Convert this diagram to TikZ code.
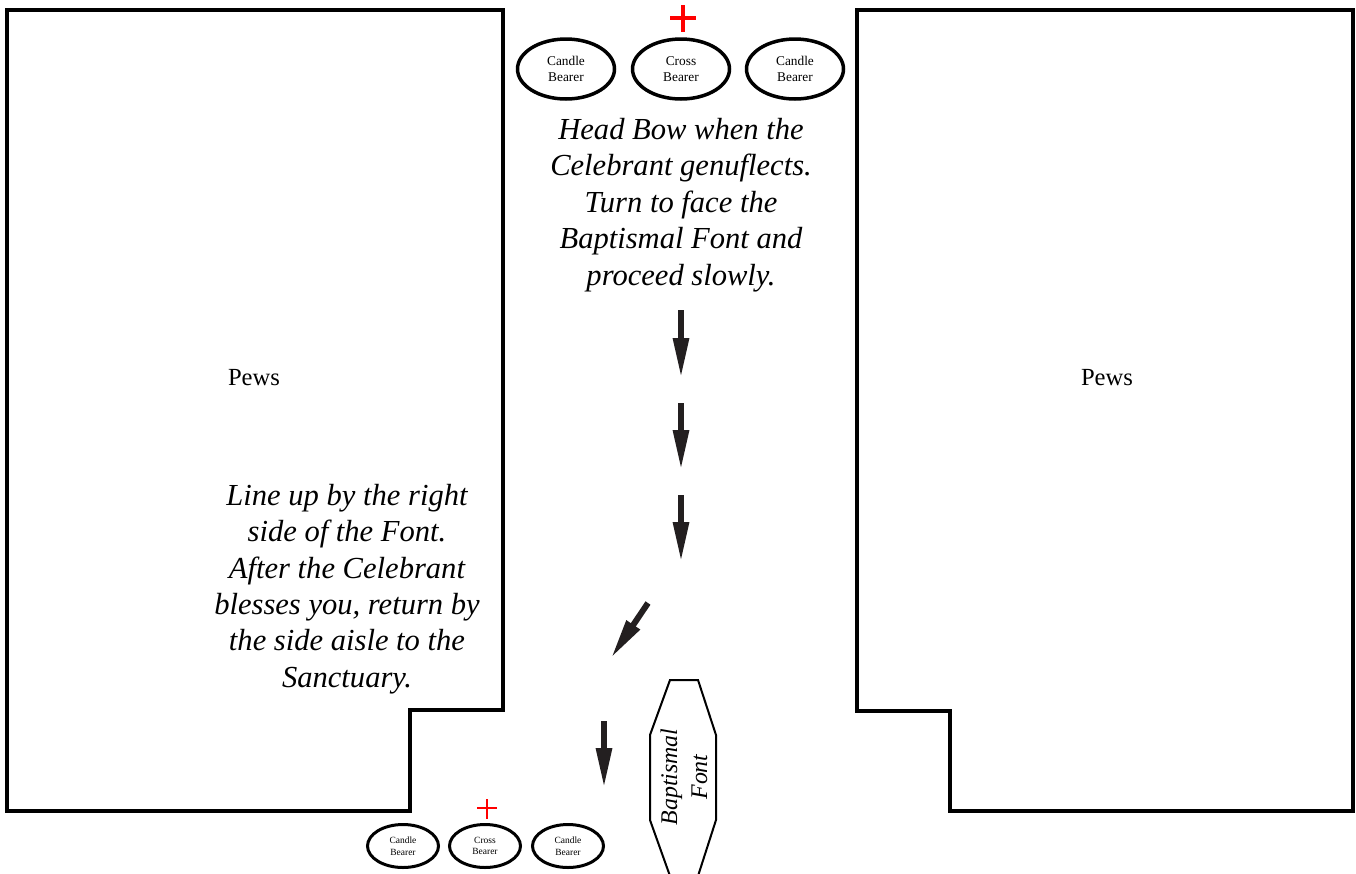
\documentclass[tikz,border=0pt]{standalone}
\usepackage{fontspec}
\setmainfont{Liberation Serif}
\usetikzlibrary{shapes.geometric,arrows.meta}
\definecolor{ink}{HTML}{231F20}

\begin{document}
\begin{tikzpicture}[x=0.02cm,y=-0.02cm,
    pew/.style={line width=0.08cm,line join=miter},
    bearer/.style={ellipse,draw,line width=0.07cm,inner sep=0pt,minimum width=1.94cm,minimum height=1.2cm,align=center,font=\fontsize{7.6}{9}\selectfont},
    smallbearer/.style={bearer,line width=0.06cm,minimum width=1.42cm,minimum height=0.86cm,font=\fontsize{5.4}{6.6}\selectfont},
    note/.style={align=center,font=\fontsize{17.4}{20.7}\selectfont\itshape},
    walk/.style={draw=ink,line width=0.12cm,-{Triangle[length=0.8cm,width=0.3cm]}}]
    \clip(0,0)rectangle(1356,873);

    % pews
    \draw[pew](7,10)--(503,10)--(503,710)--(410,710)--(410,811)--(7,811)--cycle;
    \draw[pew](857,10)--(1353,10)--(1353,811)--(950,811)--(950,711)--(857,711)--cycle;
    \node[font=\fontsize{14}{16}\selectfont](pewsL)at(254,378){Pews};
    \node[font=\fontsize{14}{16}\selectfont](pewsR)at(1107,378){Pews};

    % procession at the sanctuary
    \node[bearer](candleTL)at(566,69){Candle\\Bearer};
    \node[bearer](crossT)at(681,69){Cross\\Bearer};
    \node[bearer](candleTR)at(795,69){Candle\\Bearer};
    \draw[red,line width=0.08cm](683,5)--(683,32);
    \draw[red,line width=0.08cm](670,18)--(696,18);

    \node[note](headbow)at(681,205){Head Bow when the\\Celebrant genuflects.\\Turn to face the\\Baptismal Font and\\proceed slowly.};
    \node[note](lineup)at(347,589){Line up by the right\\side of the Font.\\After the Celebrant\\blesses you, return by\\the side aisle to the\\Sanctuary.};

    % path down the aisle
    \draw[walk](681,310)--(681,378);
    \draw[walk](681,403)--(681,470);
    \draw[walk](681,495)--(681,562);
    \draw[walk](648,603)--(611,658);
    \draw[walk](604,721)--(604,788);

    % font
    \draw[line width=0.04cm](670,680)--(698,680)--(716,735)--(716,820)--(698,876)--(670,876)--(650,820)--(650,735)--cycle;
    \node[rotate=90,align=center,font=\fontsize{13.6}{17}\selectfont\itshape](font)at(684,777){Baptismal\\Font};

    % procession at the font
    \node[smallbearer](candleBL)at(403,846){Candle\\Bearer};
    \node[smallbearer](crossB)at(485,846){Cross\\Bearer};
    \node[smallbearer](candleBR)at(568,846){Candle\\Bearer};
    \draw[red,line width=0.05cm](487,799)--(487,819);
    \draw[red,line width=0.05cm](477,808)--(497,808);
\end{tikzpicture}
\end{document}
